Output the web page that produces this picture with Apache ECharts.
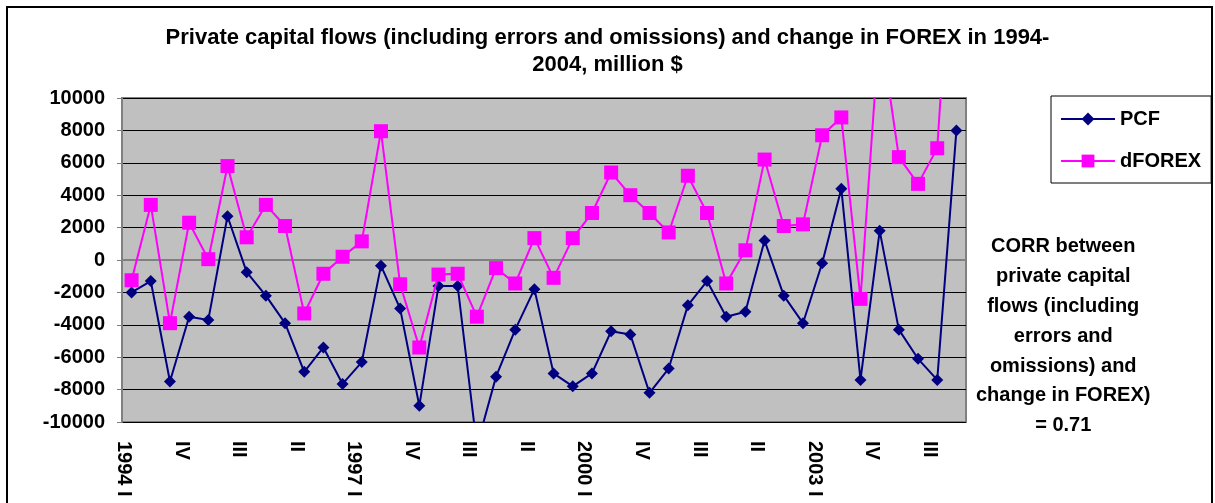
<!DOCTYPE html>
<html>
<head>
<meta charset="utf-8">
<title>PCF and dFOREX</title>
<script src="https://cdn.jsdelivr.net/npm/echarts@6/dist/echarts.min.js"></script>
<style>
  html, body { margin: 0; padding: 0; background: #fff; }
  #myChart { width: 1215px; height: 503px; }
</style>
</head>
<body>
<div id="myChart"></div>
<script>
// quarters 1994 I .. 2004 IV
var categories = [
  '1994 I', 'II', 'III', 'IV', '1995 I', 'II', 'III', 'IV',
  '1996 I', 'II', 'III', 'IV', '1997 I', 'II', 'III', 'IV',
  '1998 I', 'II', 'III', 'IV', '1999 I', 'II', 'III', 'IV',
  '2000 I', 'II', 'III', 'IV', '2001 I', 'II', 'III', 'IV',
  '2002 I', 'II', 'III', 'IV', '2003 I', 'II', 'III', 'IV',
  '2004 I', 'II', 'III', 'IV'
];

// private capital flows, million $
var pcf = [
  -2000, -1300, -7500, -3500, -3700, 2700, -750, -2200, -3900, -6900, -5400,
  -7650, -6300, -350, -3000, -9000, -1600, -1600, -11500, -7200, -4300, -1800,
  -7000, -7800, -7000, -4400, -4600, -8200, -6700, -2800, -1300, -3500, -3200,
  1200, -2200, -3900, -200, 4400, -7400, 1800, -4300, -6100, -7400, 8000
];

// change in FOREX, million $
var dforex = [
  -1250, 3400, -3900, 2300, 50, 5800, 1400, 3400, 2100, -3300, -850,
  200, 1150, 7950, -1500, -5400, -900, -850, -3500, -500, -1450, 1350,
  -1100, 1350, 2900, 5400, 4000, 2900, 1700, 5200, 2900, -1450, 600,
  6200, 2100, 2200, 7700, 8800, -2400, 14500, 6350, 4700, 6900, 25000
];

var yMin = -10000;
var yMax = 10000;
var yStep = 2000;

var corrText = 'CORR between\nprivate capital\nflows (including\nerrors and\nomissions) and\nchange in FOREX)\n= 0.71';

var font = 'Liberation Sans';

var myChart = echarts.init(document.getElementById('myChart'));

var option = {
  animation: false,
  textStyle: { fontFamily: font },
  title: {
    text: 'Private capital flows (including errors and omissions) and change in FOREX in 1994-\n2004, million $',
    left: 'center',
    top: 24,
    padding: 0,
    textStyle: {
      fontFamily: font,
      fontSize: 22,
      fontWeight: 'bold',
      color: '#000',
      lineHeight: 27
    }
  },
  legend: {
    orient: 'vertical',
    left: 1051,
    top: 96,
    padding: [13, 10, 12, 9],
    itemWidth: 54,
    itemHeight: 16,
    itemGap: 22,
    borderColor: '#000',
    borderWidth: 1,
    textStyle: {
      fontFamily: font,
      fontSize: 20,
      fontWeight: 'bold',
      color: '#000'
    },
    data: ['PCF', 'dFOREX']
  },
  grid: {
    left: 122,
    right: 249,
    top: 98,
    bottom: 81,
    show: true,
    backgroundColor: '#C0C0C0',
    borderColor: '#808080',
    borderWidth: 2
  },
  xAxis: {
    type: 'category',
    data: categories,
    axisLine: { lineStyle: { color: '#808080', width: 2 } },
    axisTick: { interval: 0, length: 6, lineStyle: { color: '#808080', width: 1 } },
    axisLabel: {
      interval: 2,
      rotate: -90,
      margin: 19,
      verticalAlign: 'top',
      lineHeight: 16,
      fontFamily: font,
      fontSize: 20,
      fontWeight: 'bold',
      color: '#000'
    }
  },
  yAxis: {
    type: 'value',
    min: yMin,
    max: yMax,
    interval: yStep,
    axisLine: { show: true, lineStyle: { color: '#808080', width: 2 } },
    axisTick: { show: true, length: 5, lineStyle: { color: '#808080' } },
    splitLine: { lineStyle: { color: '#000', width: 1 } },
    axisLabel: {
      margin: 17,
      fontFamily: font,
      fontSize: 20,
      fontWeight: 'bold',
      color: '#000',
      formatter: function (v) { return String(v); }
    }
  },
  series: [
    {
      name: 'PCF',
      type: 'line',
      data: pcf,
      symbol: 'diamond',
      symbolSize: 12,
      showAllSymbol: true,
      color: '#000080',
      lineStyle: { color: '#000080', width: 2 },
      itemStyle: { color: '#000080' },
      clip: true,
      z: 2
    },
    {
      name: 'dFOREX',
      type: 'line',
      data: dforex,
      symbol: 'rect',
      symbolSize: 14,
      showAllSymbol: true,
      color: '#FF00FF',
      lineStyle: { color: '#FF00FF', width: 2 },
      itemStyle: { color: '#FF00FF' },
      clip: true,
      z: 3
    }
  ],
  graphic: [
    {
      // outer frame, open at the bottom
      type: 'polyline',
      shape: { points: [[7, 503], [7, 7], [1212, 7], [1212, 503]] },
      style: { stroke: '#000', lineWidth: 2, fill: null },
      silent: true
    },
    {
      type: 'text',
      left: 1071 - 95,
      top: 232,
      style: {
        text: corrText,
        x: 95,
        textAlign: 'center',
        fontFamily: font,
        fontSize: 20,
        fontWeight: 'bold',
        lineHeight: 29.8,
        fill: '#000'
      }
    }
  ]
};

myChart.setOption(option);
</script>
</body>
</html>
